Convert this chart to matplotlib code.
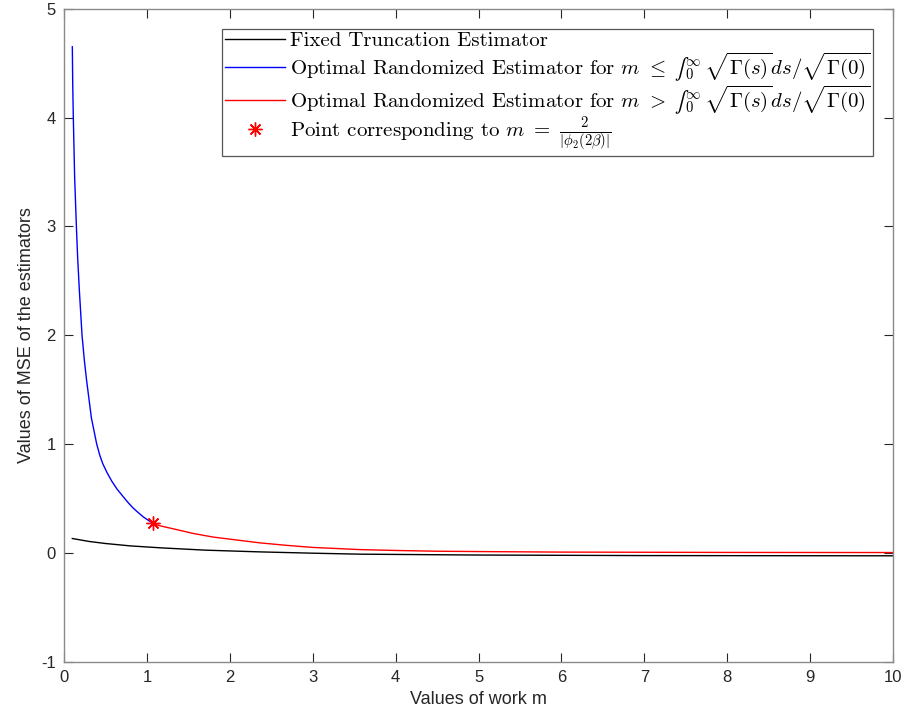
import matplotlib
matplotlib.use("Agg")
import matplotlib.pyplot as plt

# valores
m_fijo = [0.10, 0.30, 0.50, 0.80, 1.17, 1.70, 2.36, 3.00, 3.57, 5.00, 7.00, 10.0]
mse_fijo = [0.132, 0.105, 0.086, 0.064, 0.046, 0.025, 0.009, -0.003, -0.012, -0.020, -0.025, -0.027]

m_azul = [0.100, 0.105, 0.112, 0.128, 0.149, 0.165, 0.185, 0.217, 0.245, 0.273, 0.330,
          0.394, 0.430, 0.467, 0.520, 0.575, 0.640, 0.715, 0.775, 0.836, 0.895, 0.957, 1.015, 1.077]
mse_azul = [4.65, 4.30, 4.00, 3.45, 3.00, 2.70, 2.41, 2.00, 1.77, 1.58, 1.24,
            1.00, 0.90, 0.82, 0.735, 0.66, 0.585, 0.515, 0.46, 0.41, 0.37, 0.33, 0.30, 0.27]

m_rojo = [1.077, 1.15, 1.30, 1.56, 1.80, 2.00, 2.36, 2.70, 3.00, 3.57, 4.00, 4.50, 5.00, 6.00, 8.00, 10.0]
mse_rojo = [0.27, 0.25, 0.224, 0.178, 0.145, 0.126, 0.092, 0.068, 0.050, 0.030, 0.022, 0.015,
            0.012, 0.007, 0.004, 0.003]

m_punto = [1.077]
mse_punto = [0.27]

etiquetas = [
    'Fixed Truncation Estimator',
    r'Optimal Randomized Estimator for $m\ \leq\ ∫_0^\infty\,\sqrt{\Gamma(s)}ds/\sqrt{\Gamma(0)}$',
    r'Optimal Randomized Estimator for $m\ >\ ∫_0^\infty\,\sqrt{\Gamma(s)}ds/\sqrt{\Gamma(0)}$',
    r'Point corresponding to $m\ =\ \frac{2}{|\phi_2(2\beta)|}$',
]

plt.rcParams['font.family'] = ['Liberation Sans', 'DejaVu Sans']
plt.rcParams['mathtext.fontset'] = 'cm'
plt.rcParams['axes.unicode_minus'] = False

fig = plt.figure(figsize=(9.07, 7.19), dpi=100)
ax = fig.add_axes([0.0706, 0.0797, 0.9140, 0.9082])

ax.plot(m_fijo, mse_fijo, color='black', lw=1.0, label=etiquetas[0])
ax.plot(m_azul, mse_azul, color='blue', lw=1.0, label=etiquetas[1])
ax.plot(m_rojo, mse_rojo, color='red', lw=1.0, label=etiquetas[2])
ax.plot(m_punto, mse_punto, ls='none', marker=(8, 2, 0), ms=10, mew=1.0,
        color='red', label=etiquetas[3])

ax.set_xlim(0, 10)
ax.set_ylim(-1, 5)
ax.set_xticks(range(0, 11))
ax.set_yticks(range(-1, 6))
ax.tick_params(direction='in', length=6.5, width=0.8, top=True, right=True,
               labelsize=12, colors='#262626', pad=6)
for s in ax.spines.values():
    s.set_color('#8a8a8a')
    s.set_linewidth(1.0)

ax.set_xlabel('Values of work m', fontsize=13, color='#262626', labelpad=4)
ax.set_ylabel('Values of MSE of the estimators', fontsize=13, color='#262626', labelpad=4)

leg = ax.legend(loc='upper right', bbox_to_anchor=(0.976, 0.969), borderaxespad=0,
                prop={'family': 'cmr10', 'size': 15},
                handlelength=2.9, handletextpad=0.25, borderpad=0.12,
                labelspacing=0.0, fancybox=False, framealpha=1.0)
leg.get_frame().set_edgecolor('#555555')
leg.get_frame().set_linewidth(0.9)

fig.savefig('out.png', dpi=100)
